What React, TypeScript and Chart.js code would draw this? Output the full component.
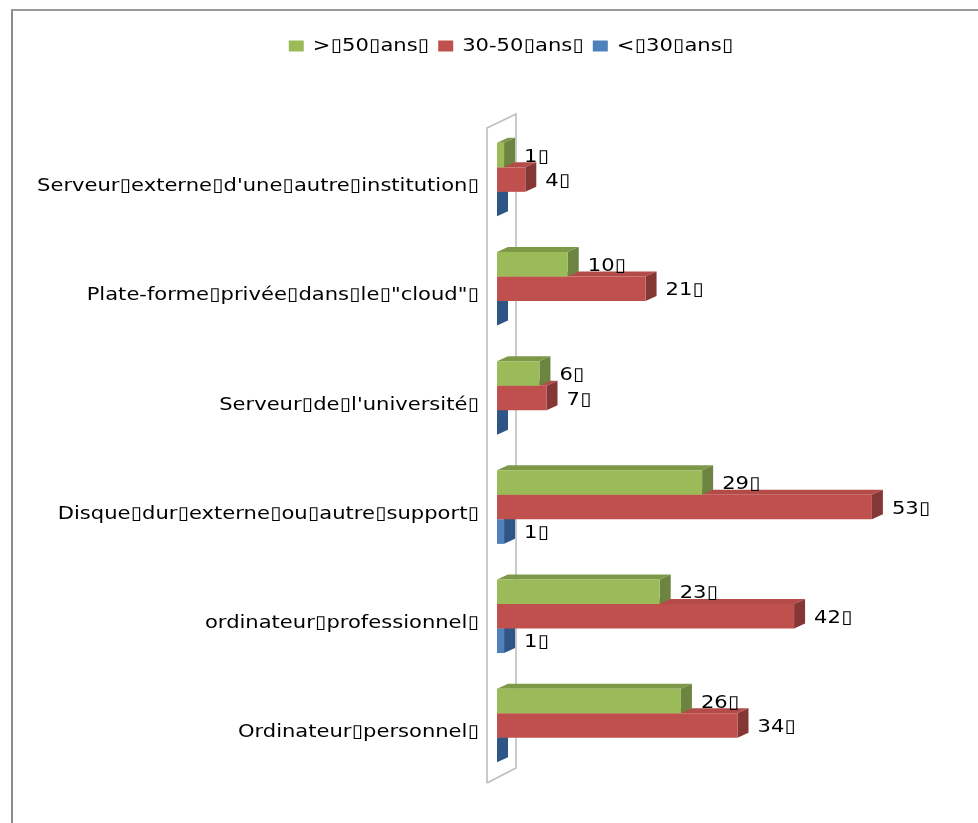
import React, { useEffect, useRef } from "react";
import { Chart, registerables } from "chart.js";

Chart.register(...registerables);

const categories = [
  "Serveur▯externe▯d'une▯autre▯institution▯",
  'Plate-forme▯privée▯dans▯le▯"cloud"▯',
  "Serveur▯de▯l'université▯",
  "Disque▯dur▯externe▯ou▯autre▯support▯",
  "ordinateur▯professionnel▯",
  "Ordinateur▯personnel▯",
];
const over50 = [1, 10, 6, 29, 23, 26];
const from30to50 = [4, 21, 7, 53, 42, 34];
const under30 = [0, 0, 0, 1, 1, 0];
const seriesNames = [">▯50▯ans▯", "30-50▯ans▯", "<▯30▯ans▯"];
const frontColors = ["#9BBB59", "#C0504D", "#4F81BD"];
const topColors = ["#7D9948", "#B54B48", "#3F6AA0"];
const sideColors = ["#6C8440", "#843735", "#2F5587"];

const FONT = "'DejaVu Sans'";
const STRETCH = 1.17;
const DX = 11;
const DY = 5;

const poly = (ctx: CanvasRenderingContext2D, pts: number[][], fill: string) => {
  ctx.beginPath();
  pts.forEach(([x, y], i) => (i ? ctx.lineTo(x, y) : ctx.moveTo(x, y)));
  ctx.closePath();
  ctx.fillStyle = fill;
  ctx.fill();
};

const chart3d = {
  id: "chart3d",
  beforeInit(chart: any) {
    // The reference's text is stretched horizontally: widen all canvas text.
    const ctx = chart.ctx;
    const fillText = ctx.fillText.bind(ctx);
    const measureText = ctx.measureText.bind(ctx);
    ctx.fillText = (t: string, x: number, y: number) => {
      ctx.save();
      ctx.translate(x, y);
      ctx.scale(STRETCH, 1);
      fillText(t, 0, 0);
      ctx.restore();
    };
    ctx.measureText = (t: string) => ({ width: measureText(t).width * STRETCH });
    const fit = chart.legend.fit;
    chart.legend.fit = function () {
      fit.call(this);
      this.height = 97;
    };
  },
  afterLayout(chart: any) {
    chart.legend.left = 44;
  },
  beforeDatasetsDraw(chart: any) {
    const { ctx, chartArea } = chart;
    const left = chartArea.left - 10;
    const top = chartArea.top + 3;
    const bottom = chartArea.bottom + 3;
    ctx.save();
    ctx.strokeStyle = "#BDBDBD";
    ctx.lineWidth = 1.6;
    ctx.beginPath();
    ctx.moveTo(left, bottom);
    ctx.lineTo(left, top);
    ctx.lineTo(left + 29, top - 14);
    ctx.lineTo(left + 29, bottom - 15);
    ctx.lineTo(left, bottom);
    ctx.stroke();
    ctx.restore();
  },
  beforeDatasetDraw(chart: any, args: any) {
    const { ctx } = chart;
    const i = args.index;
    args.meta.data.forEach((bar: any) => {
      const { x, y, base, height } = bar.getProps(["x", "y", "base", "height"], true);
      const t = y - height / 2;
      const b = y + height / 2;
      poly(ctx, [[base, t], [base + DX, t - DY], [x + DX, t - DY], [x, t]], topColors[i]);
      poly(ctx, [[x, t], [x + DX, t - DY], [x + DX, b - DY], [x, b]], sideColors[i]);
    });
  },
  afterDatasetsDraw(chart: any) {
    const { ctx } = chart;
    ctx.save();
    ctx.font = `18px ${FONT}`;
    ctx.fillStyle = "#000";
    ctx.textBaseline = "middle";
    chart.data.datasets.forEach((ds: any, i: number) => {
      chart.getDatasetMeta(i).data.forEach((bar: any, j: number) => {
        const v = ds.data[j];
        if (!v) return;
        const { x, y } = bar.getProps(["x", "y"], true);
        ctx.fillText(`${v}▯`, x + DX + 9, y + 2);
      });
    });
    ctx.restore();
  },
};

export default function App() {
  const ref = useRef<HTMLCanvasElement>(null);
  useEffect(() => {
    const chart = new Chart(ref.current!, {
      type: "bar",
      data: {
        labels: categories,
        datasets: [over50, from30to50, under30].map((data, i) => ({
          label: seriesNames[i],
          data,
          backgroundColor: frontColors[i],
          borderWidth: 0,
          categoryPercentage: 0.674,
          barPercentage: 1,
        })),
      },
      options: {
        indexAxis: "y",
        responsive: false,
        animation: false,
        layout: { padding: { left: 0, top: 28, bottom: 43, right: 0 } },
        plugins: {
          tooltip: { enabled: false },
          legend: {
            position: "top",
            labels: {
              boxWidth: 15,
              boxHeight: 11,
              padding: 9,
              color: "#000",
              font: { family: FONT, size: 18 },
            },
          },
        },
        scales: {
          x: { display: false, min: 0, max: 68 },
          y: {
            afterFit(scale: any) {
              scale.width = 497;
            },
            grid: { display: false, drawTicks: false },
            border: { display: false },
            ticks: {
              padding: 18,
              labelOffset: 7,
              color: "#000",
              autoSkip: false,
              font: { family: FONT, size: 18 },
            },
          },
        },
      },
      plugins: [chart3d],
    } as any);
    return () => chart.destroy();
  }, []);
  return (
    <div style={{ position: "absolute", left: 0, top: 0, width: 978, height: 823, overflow: "hidden", background: "#fff" }}>
      <canvas ref={ref} width={978} height={823} style={{ position: "absolute", left: 0, top: 0 }} />
      <div style={{ position: "absolute", left: 11, top: 9, width: 967, height: 814, borderLeft: "2px solid #8C8C8C", borderTop: "2px solid #9A9A9A", boxSizing: "border-box" }} />
    </div>
  );
}
